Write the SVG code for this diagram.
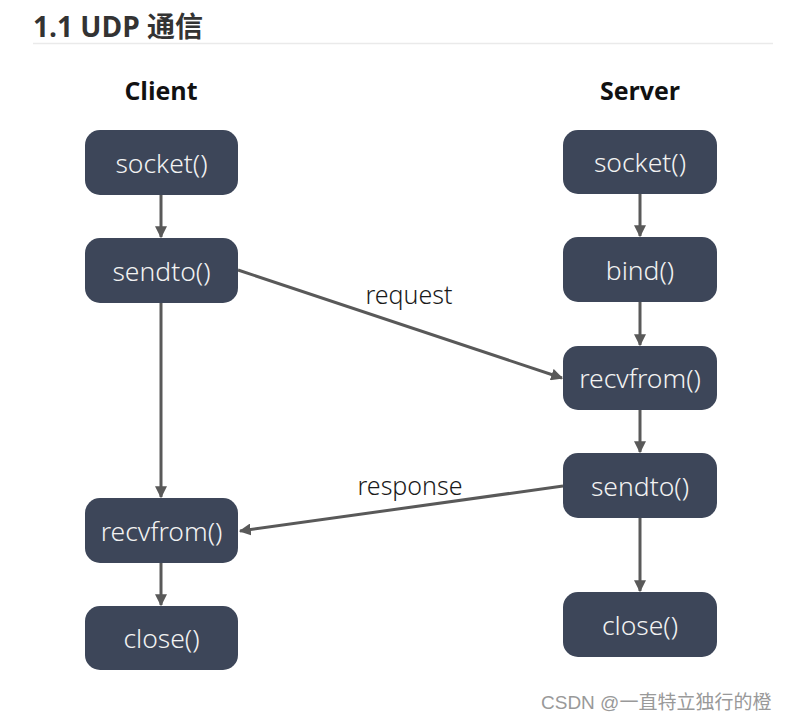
<svg xmlns="http://www.w3.org/2000/svg" width="789" height="722" viewBox="0 0 789 722">
<defs>
<style>
.node rect{fill:#3d4659;}
.node text{fill:#f2f2f2;font-family:"Noto Sans","Open Sans",sans-serif;font-size:26.5px;font-weight:300;text-anchor:middle;}
.conn line{stroke:#595959;stroke-width:3;fill:none;marker-end:url(#ah);}
.lbl{font-family:"Noto Sans","Open Sans",sans-serif;font-size:25px;fill:#1a1a1a;font-weight:300;text-anchor:middle;}
.hdr{font-family:"Open Sans","Noto Sans",sans-serif;font-size:25px;font-weight:bold;fill:#111;text-anchor:middle;}
</style>
<marker id="ah" viewBox="0 0 10 10" refX="9" refY="5" markerWidth="4" markerHeight="4" orient="auto" markerUnits="strokeWidth">
<path d="M0,0 L10,5 L0,10 z" fill="#595959"/>
</marker>
</defs>
<rect width="789" height="722" fill="#fff"/>
<text x="33" y="37" font-family="'Open Sans','Noto Sans CJK SC',sans-serif" font-size="28" font-weight="bold" fill="#333">1.1 UDP 通信</text>
<line x1="33" y1="43.5" x2="773" y2="43.5" stroke="#eaeaea" stroke-width="1.5"/>
<text class="hdr" x="161" y="100">Client</text>
<text class="hdr" x="640" y="100">Server</text>
<g class="conn">
<line x1="161" y1="195" x2="161" y2="237"/>
<line x1="161" y1="303" x2="161" y2="497"/>
<line x1="161" y1="563" x2="161" y2="605"/>
<line x1="640" y1="194" x2="640" y2="236"/>
<line x1="640" y1="302" x2="640" y2="345"/>
<line x1="640" y1="410" x2="640" y2="452"/>
<line x1="640" y1="518" x2="640" y2="591"/>
<line x1="238" y1="270" x2="562" y2="378"/>
<line x1="563" y1="486" x2="240" y2="531"/>
</g>
<text class="lbl" x="409" y="304">request</text>
<text class="lbl" x="410" y="495">response</text>
<g id="c_socket" class="node"><rect x="85" y="130" width="153" height="65" rx="15"/><text x="161.5" y="173">socket()</text></g>
<g id="c_sendto" class="node"><rect x="85" y="238" width="153" height="65" rx="15"/><text x="161.5" y="281">sendto()</text></g>
<g id="c_recvfrom" class="node"><rect x="85" y="498" width="153" height="65" rx="15"/><text x="161.5" y="541">recvfrom()</text></g>
<g id="c_close" class="node"><rect x="85" y="606" width="153" height="64" rx="15"/><text x="161.5" y="648">close()</text></g>
<g id="s_socket" class="node"><rect x="563" y="130" width="154" height="64" rx="15"/><text x="640" y="172">socket()</text></g>
<g id="s_bind" class="node"><rect x="563" y="237" width="154" height="65" rx="15"/><text x="640" y="280">bind()</text></g>
<g id="s_recvfrom" class="node"><rect x="563" y="346" width="154" height="64" rx="15"/><text x="640" y="388">recvfrom()</text></g>
<g id="s_sendto" class="node"><rect x="563" y="453" width="154" height="65" rx="15"/><text x="640" y="496">sendto()</text></g>
<g id="s_close" class="node"><rect x="563" y="592" width="154" height="65" rx="15"/><text x="640" y="635">close()</text></g>
<text x="541" y="709" font-family="'Liberation Sans','Noto Sans CJK SC',sans-serif" font-size="19" fill="#999">CSDN @一直特立独行的橙</text>
</svg>
